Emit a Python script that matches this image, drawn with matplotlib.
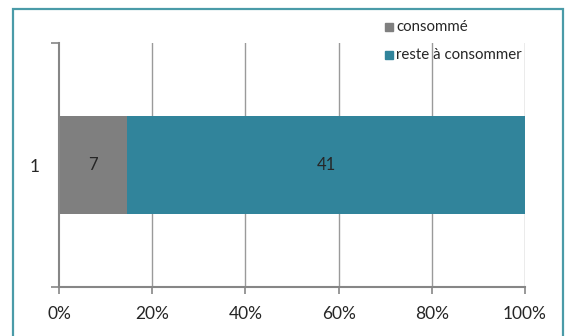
import matplotlib
matplotlib.use("Agg")
import matplotlib.pyplot as plt
from matplotlib.patches import Rectangle
from matplotlib.ticker import FixedLocator

categories = ["1"]
consomme = [7]
reste = [41]
series_names = ["consommé", "reste à consommer"]
series_colors = ["#7f7f7f", "#31849b"]
x_ticks = [0, 20, 40, 60, 80, 100]
x_tick_labels = ["0%", "20%", "40%", "60%", "80%", "100%"]

plt.rcParams["font.family"] = ["Lato", "DejaVu Sans"]

fig = plt.figure(figsize=(5.67, 3.36), dpi=100)
ax = fig.add_axes([59 / 567, 49 / 336, 466 / 567, 244 / 336])

total = [a + b for a, b in zip(consomme, reste)]
pc1 = [a / t * 100 for a, t in zip(consomme, total)]
pc2 = [b / t * 100 for b, t in zip(reste, total)]
ypos = list(range(1, len(categories) + 1))

ax.set_xlim(0, 100)
ax.set_ylim(0.5, len(categories) + 0.5)

for x in x_ticks[1:]:
    ax.axvline(x, color="#9a9a9a", lw=1.0, zorder=0)

ax.barh(ypos, pc1, height=0.4, color=series_colors[0], zorder=2)
ax.barh(ypos, pc2, left=pc1, height=0.4, color=series_colors[1], zorder=2)

for y, p1, p2, v1, v2 in zip(ypos, pc1, pc2, consomme, reste):
    ax.text(p1 / 2, y, str(v1), ha="center", va="center", fontsize=12, color="#262626", zorder=3)
    ax.text(p1 + p2 / 2, y, str(v2), ha="center", va="center", fontsize=12, color="#262626", zorder=3)

for s in ["top", "right"]:
    ax.spines[s].set_visible(False)
for s in ["left", "bottom"]:
    ax.spines[s].set_color("#868686")
    ax.spines[s].set_linewidth(1.5)

ax.set_xticks(x_ticks)
ax.set_xticklabels(x_tick_labels, fontsize=12.5, color="#262626")
ax.tick_params(axis="x", direction="out", length=5, width=1.2, color="#868686", pad=9)

ax.set_yticks(ypos)
ax.set_yticklabels(categories, fontsize=12.5, color="#262626")
ax.tick_params(axis="y", which="major", length=0, pad=14)
ax.yaxis.set_minor_locator(FixedLocator([0.5, len(categories) + 0.5]))
ax.tick_params(axis="y", which="minor", direction="out", length=6, width=1.2, color="#868686")

# legend in the upper right of the figure
legend_items = [(series_names[0], series_colors[0], 27), (series_names[1], series_colors[1], 55)]
for name, col, ypix in legend_items:
    fig.patches.append(Rectangle((385 / 567, 1 - (ypix + 4) / 336), 8 / 567, 8 / 336,
                                 transform=fig.transFigure, color=col, figure=fig))
    fig.text(396 / 567, 1 - ypix / 336, name, ha="left", va="center", fontsize=10.8, color="#262626")

# outer frame
fig.patches.append(Rectangle((12.5 / 567, -0.05), (563 - 12.5) / 567, 1 - 8.5 / 336 + 0.05,
                             transform=fig.transFigure, fill=False, edgecolor="#4a9ba8",
                             lw=1.6, figure=fig))

fig.savefig("out.png", dpi=100)
